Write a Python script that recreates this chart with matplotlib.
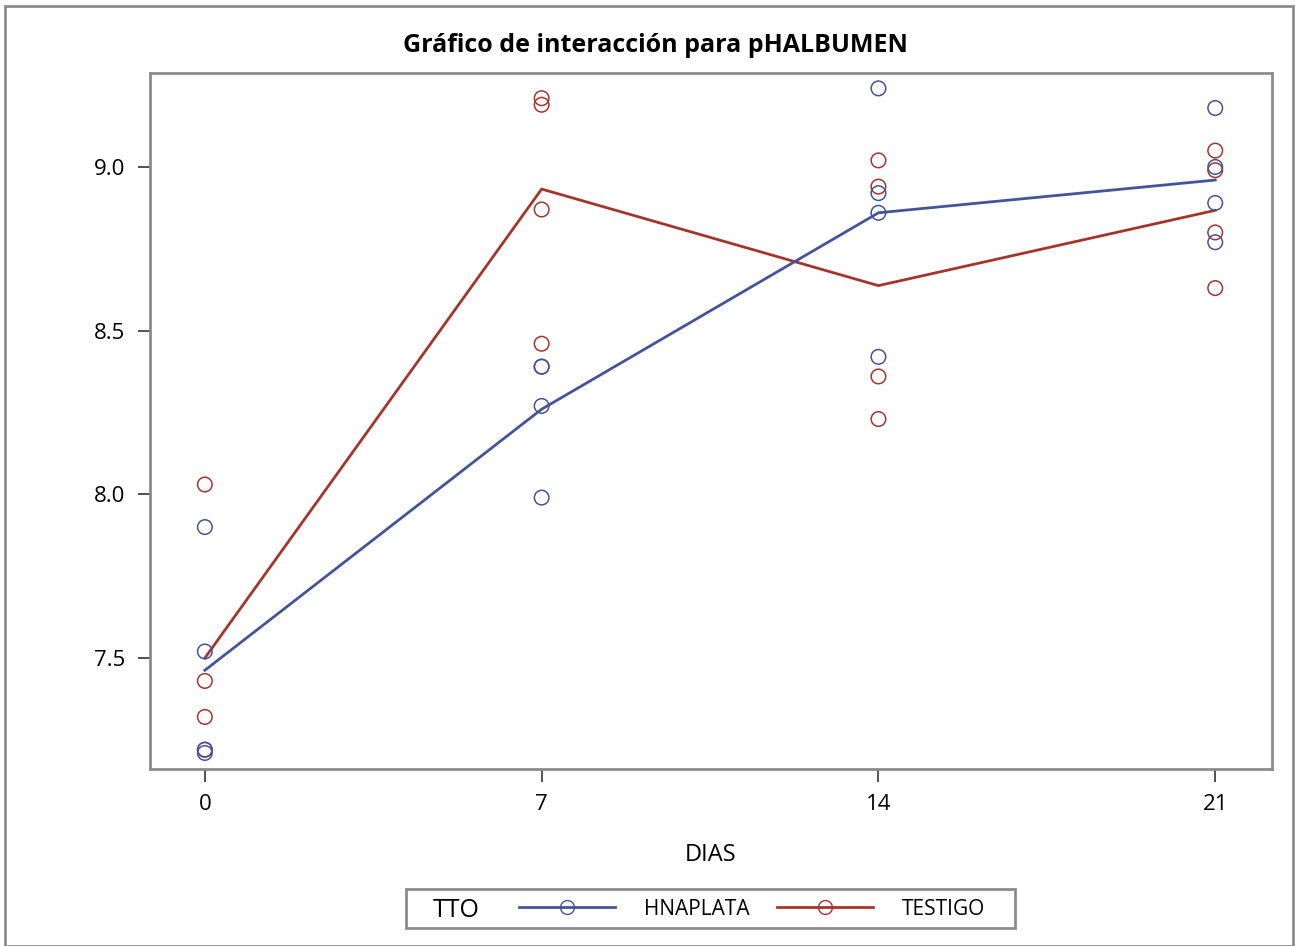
import numpy as np
import matplotlib
matplotlib.use('Agg')
import matplotlib.pyplot as plt
from matplotlib.lines import Line2D
from matplotlib.patches import Rectangle

plt.rcParams['font.family'] = ['Open Sans', 'DejaVu Sans']

# datos
dias = [0, 7, 14, 21]
hnaplata = [
    [7.90, 7.52, 7.22, 7.21],
    [8.39, 8.39, 8.27, 7.99],
    [9.24, 8.92, 8.86, 8.42],
    [9.18, 9.00, 8.89, 8.77],
]
testigo = [
    [8.03, 7.43, 7.32, 7.22],
    [9.21, 9.19, 8.87, 8.46],
    [9.02, 8.94, 8.36, 8.23],
    [9.05, 8.99, 8.80, 8.63],
]
grupos = ['HNAPLATA', 'TESTIGO']
colores = ['#43549A', '#A5352B']

fig = plt.figure(figsize=(12.99, 9.46), dpi=100)
ax = fig.add_axes([150/1299, 1 - 769/946, (1272-150)/1299, (769-73)/946])

# testigo primero para que HNAPLATA quede encima
for z, (nombre, datos, c) in enumerate(zip(grupos[::-1], [testigo, hnaplata], colores[::-1])):
    for d, vals in zip(dias, datos):
        ax.scatter([d]*len(vals), vals, s=110, facecolors='none', edgecolors=c, linewidths=1.1, zorder=3 + z)
    medias = [np.mean(v) for v in datos]
    ax.plot(dias, medias, color=c, lw=2, zorder=2)

ax.set_xlim(-1.14, 22.18)
ax.set_ylim(7.161, 9.287)
ax.set_xticks(dias)
ax.set_yticks([7.5, 8.0, 8.5, 9.0])
ax.set_yticklabels(['7.5', '8.0', '8.5', '9.0'])
ax.tick_params(labelsize=16, length=9, width=1.2, color='#333333', pad=9)
for s in ax.spines.values():
    s.set_color('#8c8c8c')
    s.set_linewidth(2)
ax.set_xlabel('DIAS', fontsize=17, labelpad=20)

fig.text(655/1299, 1 - 45/946, 'Gráfico de interacción para pHALBUMEN', ha='center', va='center',
         fontsize=18, fontweight='bold')

# marco exterior
fig.patches.append(Rectangle((5/1299, 0), 1288/1299, 1 - 6/946, transform=fig.transFigure,
                             fill=False, edgecolor='#8c8c8c', lw=2))

# leyenda: caja, titulo TTO y entradas
fig.patches.append(Rectangle((406/1299, 1 - 928/946), (1015-406)/1299, 39/946, transform=fig.transFigure,
                             fill=False, edgecolor='#8c8c8c', lw=2))
fig.text(456/1299, 1 - 910/946, 'TTO', ha='center', va='center', fontsize=18)

handles = []
for nombre, c in zip(grupos, colores):
    handles.append(Line2D([], [], color=c, lw=2, marker='o', ms=10, mfc='none', mec=c, mew=1))
leg = fig.legend(handles, grupos, ncol=2, loc='center', bbox_to_anchor=(752/1299, 1 - 909/946),
                 fontsize=15, frameon=False, handlelength=4.6, numpoints=1,
                 columnspacing=1.3, handletextpad=1.4, borderpad=0.2)

fig.savefig('out.png', dpi=100)
